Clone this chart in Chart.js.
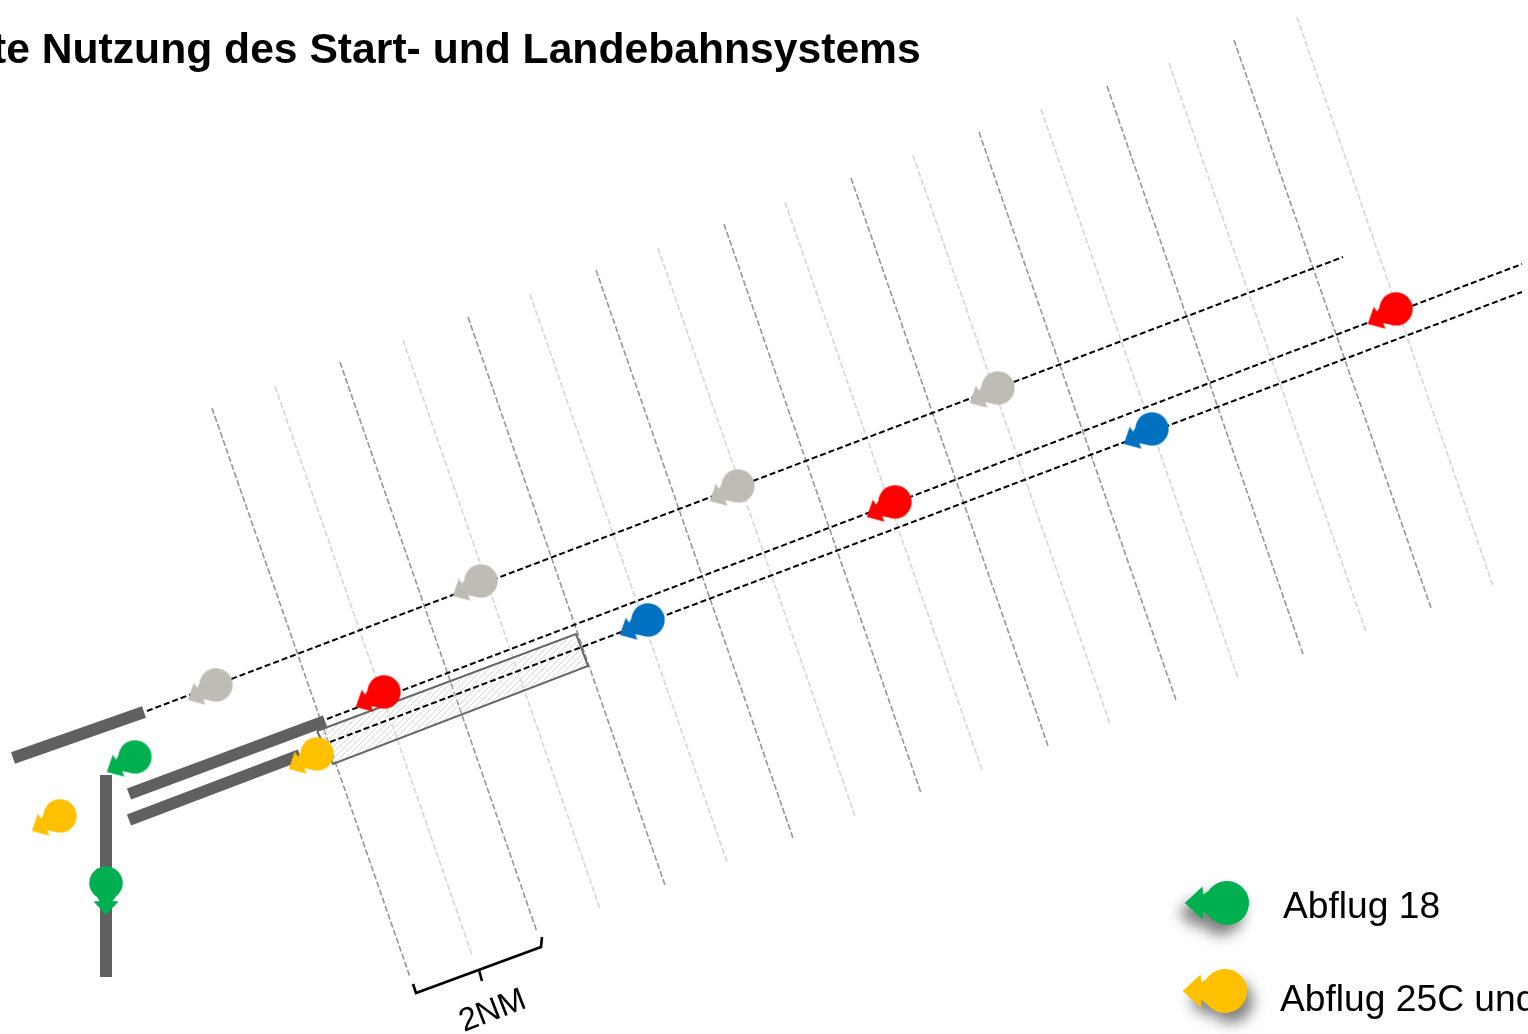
<!DOCTYPE html>
<html lang="de">
<head>
<meta charset="utf-8">
<title>Nutzung des Start- und Landebahnsystems</title>
<script src="https://cdn.jsdelivr.net/npm/chart.js@4"></script>
<style>
  html, body { margin: 0; padding: 0; background: #fff; overflow: hidden; }
  canvas { display: block; }
</style>
</head>
<body>
<canvas id="chart" width="1528" height="1034"></canvas>
<script>
const titleText = "te Nutzung des Start- und Landebahnsystems";
const legendLabels = ["Abflug 18", "Abflug 25C und"];
const distanceLabel = "2NM";

const approachUpper = [[147, 711], [1343, 257]];
const approachMiddle = [[327, 719], [1522, 264]];
const approachLower = [[330, 742], [1522, 292]];

const gridDark = [
  [[212, 408], [410, 977]],
  [[340, 362], [537, 932]],
  [[468, 317], [665, 885]],
  [[596, 270], [793, 838]],
  [[724, 224], [921, 793]],
  [[851, 178], [1048, 746]],
  [[979, 132], [1176, 700]],
  [[1107, 86], [1303, 654]],
  [[1234, 40], [1431, 608]],
];
const gridLight = [
  [[275, 386], [472, 955]],
  [[403, 340], [600, 909]],
  [[530, 294], [727, 862]],
  [[658, 248], [855, 816]],
  [[785, 202], [982, 770]],
  [[913, 155], [1110, 724]],
  [[1041, 109], [1238, 678]],
  [[1169, 63], [1366, 632]],
  [[1297, 17], [1493, 586]],
];

const runways = [
  [[13, 758], [144, 712]],
  [[129, 794], [325, 721]],
  [[129, 820], [300, 755]],
  [[106, 775], [106, 977]],
];

const hatchedBox = [[317, 731], [576, 634], [588, 666], [333, 764], [317, 731]];
const bracket = [[413, 984], [416, 993], [541, 947], [542, 937]];
const bracketTick = [[479, 970], [482, 981]];

const greyMarkers = [[216, 685], [481, 581], [738, 486], [998, 388]];
const redMarkers = [[384, 692], [895, 502], [1396, 309]];
const blueMarkers = [[648, 620], [1152, 429]];
const yellowMarkers = [[317, 754], [60, 816]];
const greenMarkers = [[135, 757]];
const greenDownMarkers = [[106, 883]];
const legendGreen = [[1227, 903]];
const legendYellow = [[1225, 991]];

const Colors = {
  grey: "#bfbcb6",
  red: "#ff0000",
  blue: "#0070c0",
  yellow: "#ffc000",
  green: "#00b050",
  runway: "#606060",
  gridDark: "#969696",
  gridLight: "#d6d6d6",
  box: "#666666",
  hatch: "#dcdcdc",
};

const toPoints = (pairs) => pairs.map(([x, y]) => ({ x, y }));

// circle with an arrow head on its left side, pivot is the circle centre
const makeMarker = (color, scale, shadow) => {
  const size = 120;
  const c = document.createElement("canvas");
  c.width = size;
  c.height = size;
  const g = c.getContext("2d");
  g.translate(size / 2, size / 2);
  g.scale(scale, scale);
  if (shadow) {
    g.shadowColor = "rgba(0, 0, 0, 0.5)";
    g.shadowBlur = 14;
    g.shadowOffsetX = shadow[0];
    g.shadowOffsetY = shadow[1];
  }
  g.fillStyle = color;
  g.beginPath();
  g.moveTo(-32, 0);
  g.lineTo(-18.5, -12.5);
  g.lineTo(-18, -6.5);
  g.lineTo(-14, -9);
  g.arc(0, 0, 16.7, Math.PI + 0.7, Math.PI - 0.7);
  g.lineTo(-18, 6.5);
  g.lineTo(-18.5, 12.5);
  g.closePath();
  g.fill();
  return c;
};

const makeHatch = () => {
  const c = document.createElement("canvas");
  c.width = 6;
  c.height = 6;
  const g = c.getContext("2d");
  g.strokeStyle = Colors.hatch;
  g.lineWidth = 1;
  g.beginPath();
  g.moveTo(-1, 7);
  g.lineTo(7, -1);
  g.moveTo(-1, 1);
  g.lineTo(1, -1);
  g.moveTo(5, 7);
  g.lineTo(7, 5);
  g.stroke();
  return document.createElement("canvas").getContext("2d").createPattern(c, "repeat");
};

const lineSet = (pairs, color, width, dash) => ({
  data: toPoints(pairs),
  showLine: true,
  pointRadius: 0,
  borderColor: color,
  borderWidth: width,
  borderDash: dash || [],
  borderCapStyle: "butt",
  borderJoinStyle: "miter",
  fill: false,
});

const markerSet = (pairs, sprite, rotation) => ({
  data: toPoints(pairs),
  showLine: false,
  pointRadius: 20,
  pointStyle: sprite,
  pointRotation: rotation,
});

// bottom to top, reversed below because Chart.js paints the first set last
const layers = [
  ...gridLight.map((l) => lineSet(l, Colors.gridLight, 1.6, [6, 2.5])),
  ...gridDark.map((l) => lineSet(l, Colors.gridDark, 1.6, [6, 2.5])),
  {
    ...lineSet(hatchedBox, Colors.box, 2),
    fill: "shape",
    backgroundColor: makeHatch(),
  },
  ...runways.map((l) => lineSet(l, Colors.runway, 12)),
  lineSet(approachUpper, "#000", 2, [6, 3]),
  lineSet(approachMiddle, "#000", 2, [6, 3]),
  lineSet(approachLower, "#000", 2, [6, 3]),
  lineSet(bracket, "#000", 2.6),
  lineSet(bracketTick, "#000", 2.6),
  markerSet(greyMarkers, makeMarker(Colors.grey, 1), -28),
  markerSet(redMarkers, makeMarker(Colors.red, 1), -28),
  markerSet(blueMarkers, makeMarker(Colors.blue, 1), -28),
  markerSet(yellowMarkers, makeMarker(Colors.yellow, 1), -28),
  markerSet(greenMarkers, makeMarker(Colors.green, 1), -28),
  markerSet(greenDownMarkers, makeMarker(Colors.green, 1), -90),
  markerSet(legendGreen, makeMarker(Colors.green, 1.32, [-6, 10]), 0),
  markerSet(legendYellow, makeMarker(Colors.yellow, 1.32, [6, 10]), 0),
];

const textItems = [
  { text: titleText, x: -8, y: 63, font: "bold 42.65px 'Liberation Sans'", angle: 0 },
  { text: legendLabels[0], x: 1283, y: 918, font: "37.2px 'Liberation Sans'", angle: 0 },
  { text: legendLabels[1], x: 1280, y: 1011, font: "37.2px 'Liberation Sans'", angle: 0 },
  { text: distanceLabel, x: 464, y: 1032, font: "32.5px 'Liberation Sans'", angle: -21 },
];

const textPlugin = {
  id: "textItems",
  afterDraw(chart) {
    const { ctx, scales } = chart;
    textItems.forEach((t) => {
      ctx.save();
      ctx.translate(scales.x.getPixelForValue(t.x), scales.y.getPixelForValue(t.y));
      ctx.rotate((t.angle * Math.PI) / 180);
      ctx.font = t.font;
      ctx.fillStyle = "#000";
      ctx.textAlign = "left";
      ctx.textBaseline = "alphabetic";
      ctx.fillText(t.text, 0, 0);
      ctx.restore();
    });
  },
};

new Chart(document.getElementById("chart"), {
  type: "scatter",
  data: { datasets: layers.reverse() },
  plugins: [textPlugin],
  options: {
    responsive: false,
    animation: false,
    events: [],
    layout: { padding: 0, autoPadding: false },
    scales: {
      x: { type: "linear", display: false, min: 0, max: 1528 },
      y: { type: "linear", display: false, reverse: true, min: 0, max: 1034 },
    },
    plugins: {
      legend: { display: false },
      title: { display: false },
      tooltip: { enabled: false },
    },
  },
});
</script>
</body>
</html>
